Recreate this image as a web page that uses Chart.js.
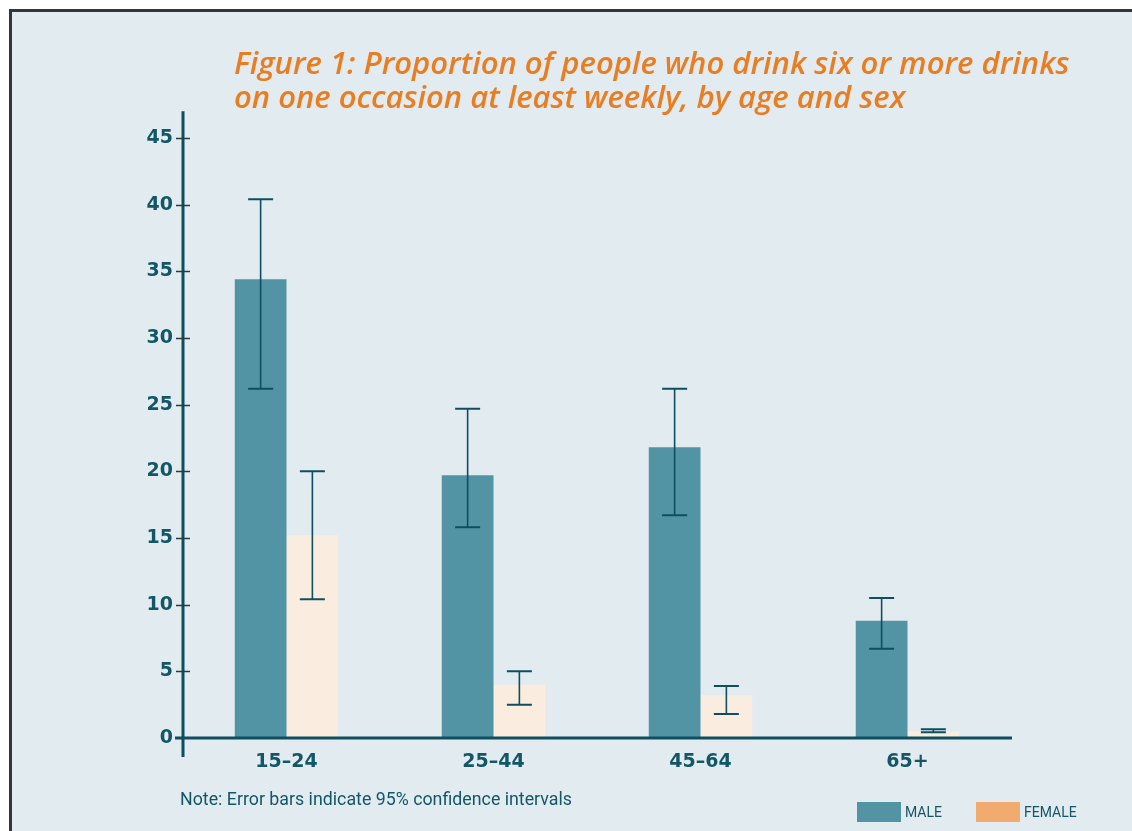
<!DOCTYPE html>
<html>
<head>
    <meta charset="UTF-8">
    <title>Figure 1 - Heavy drinking by age and sex</title>
    <script src="https://cdn.jsdelivr.net/npm/chart.js"></script>
    <style>
        html, body {
            margin: 0;
            padding: 0;
            background: #ffffff;
            overflow: hidden;
        }
        /* Panel with the dark frame */
        .frame {
            position: absolute;
            left: 9px;
            top: 9px;
            width: 1200px;
            height: 900px;
            border: 3px solid #333638;
            background-color: #e2ebf0;
        }
        #chartDrinks {
            position: absolute;
            left: 0;
            top: 0;
        }
    </style>
</head>
<body>
    <div class="frame"></div>
    <canvas id="chartDrinks" width="1132" height="831"></canvas>

    <script>
        // Data per age group (percent)
        const ageGroups = ['15–24', '25–44', '45–64', '65+'];
        const maleValues = [34.4, 19.7, 21.8, 8.8];
        const femaleValues = [15.2, 4.0, 3.2, 0.5];
        // 95% confidence intervals
        const maleLow = [26.2, 15.8, 16.7, 6.7];
        const maleHigh = [40.4, 24.7, 26.2, 10.5];
        const femaleLow = [10.4, 2.5, 1.8, 0.43];
        const femaleHigh = [20.0, 5.0, 3.9, 0.65];
        const yTicks = [0, 5, 10, 15, 20, 25, 30, 35, 40, 45];

        const titleLines = [
            'Figure 1: Proportion of people who drink six or more drinks',
            'on one occasion at least weekly, by age and sex'
        ];
        const noteText = 'Note: Error bars indicate 95% confidence intervals';

        const axisColor = '#0d4f5e';
        const textColor = '#135767';
        const tickFont = { family: '"DejaVu Sans"', size: 19, weight: 'bold' };

        // Axes, tick crosses, error bars, title, note and legend
        const extrasPlugin = {
            id: 'extras',
            afterDatasetsDraw(chart) {
                const ctx = chart.ctx;
                const area = chart.chartArea;
                const y = chart.scales.y;

                ctx.save();

                // error bars
                const ciSets = [[maleLow, maleHigh], [femaleLow, femaleHigh]];
                ctx.strokeStyle = axisColor;
                ciSets.forEach(function (ci, di) {
                    const meta = chart.getDatasetMeta(di);
                    meta.data.forEach(function (bar, i) {
                        const yLo = y.getPixelForValue(ci[0][i]);
                        const yHi = y.getPixelForValue(ci[1][i]);
                        ctx.lineWidth = 1.6;
                        ctx.beginPath();
                        ctx.moveTo(bar.x, yLo);
                        ctx.lineTo(bar.x, yHi);
                        ctx.stroke();
                        ctx.lineWidth = 2;
                        ctx.beginPath();
                        ctx.moveTo(bar.x - 12.5, yLo);
                        ctx.lineTo(bar.x + 12.5, yLo);
                        ctx.moveTo(bar.x - 12.5, yHi);
                        ctx.lineTo(bar.x + 12.5, yHi);
                        ctx.stroke();
                    });
                });

                // y axis line, runs past both ends of the scale
                ctx.strokeStyle = axisColor;
                ctx.lineWidth = 3;
                ctx.beginPath();
                ctx.moveTo(area.left, y.getPixelForValue(47));
                ctx.lineTo(area.left, area.bottom + 19);
                ctx.stroke();

                // x axis line
                ctx.beginPath();
                ctx.moveTo(area.left - 8, area.bottom);
                ctx.lineTo(area.right + 1, area.bottom);
                ctx.stroke();

                // tick crosses on the y axis
                ctx.strokeStyle = '#2b3a40';
                ctx.lineWidth = 1.5;
                yTicks.forEach(function (v) {
                    if (v === 0) return;
                    const py = Math.round(y.getPixelForValue(v)) + 0.5;
                    ctx.beginPath();
                    ctx.moveTo(area.left - 7, py);
                    ctx.lineTo(area.left + 7, py);
                    ctx.stroke();
                });

                // title, sized so the first line spans the plot width
                ctx.fillStyle = '#e97d21';
                ctx.textAlign = 'left';
                ctx.textBaseline = 'alphabetic';
                ctx.font = 'italic 600 28px "Open Sans"';
                const w = ctx.measureText(titleLines[0]).width;
                const size = Math.min(31, 28 * 838 / w);
                ctx.font = 'italic 600 ' + size.toFixed(1) + 'px "Open Sans"';
                ctx.fillText(titleLines[0], 234, 74);
                ctx.fillText(titleLines[1], 234, 108);

                // note
                ctx.fillStyle = textColor;
                ctx.font = '17.8px Roboto';
                ctx.fillText(noteText, 180, 805);

                // legend
                const legendItems = [
                    { label: 'MALE', color: '#5294a4', x: 857 },
                    { label: 'FEMALE', color: '#f2ab6e', x: 976 }
                ];
                ctx.font = '14px Roboto';
                legendItems.forEach(function (item) {
                    ctx.fillStyle = item.color;
                    ctx.fillRect(item.x, 802, 44, 20);
                    ctx.fillStyle = textColor;
                    ctx.fillText(item.label, item.x + 48, 817);
                });

                ctx.restore();
            }
        };

        const dataDrinks = {
            labels: ageGroups,
            datasets: [{
                label: 'MALE',
                data: maleValues,
                backgroundColor: '#5294a4'
            }, {
                label: 'FEMALE',
                data: femaleValues,
                backgroundColor: '#fbece0'
            }]
        };

        const config = {
            type: 'bar',
            data: dataDrinks,
            options: {
                responsive: false,
                animation: false,
                layout: {
                    padding: { left: 0, right: 121, top: 138, bottom: 0 }
                },
                datasets: {
                    bar: {
                        categoryPercentage: 0.5,
                        barPercentage: 1.0
                    }
                },
                plugins: {
                    legend: { display: false },
                    title: { display: false },
                    tooltip: { enabled: false }
                },
                scales: {
                    x: {
                        grid: { display: false, drawTicks: false },
                        border: { display: false },
                        ticks: {
                            color: textColor,
                            padding: 13,
                            font: tickFont
                        },
                        afterFit(scale) { scale.height = 93; }
                    },
                    y: {
                        min: 0,
                        max: 45,
                        afterBuildTicks(scale) {
                            scale.ticks = yTicks.map(function (v) { return { value: v }; });
                        },
                        grid: { display: false, drawTicks: false },
                        border: { display: false },
                        ticks: {
                            color: textColor,
                            padding: 10,
                            font: tickFont
                        },
                        afterFit(scale) { scale.width = 183; }
                    }
                }
            },
            plugins: [extrasPlugin]
        };

        new Chart(document.getElementById('chartDrinks').getContext('2d'), config);
    </script>
</body>
</html>
